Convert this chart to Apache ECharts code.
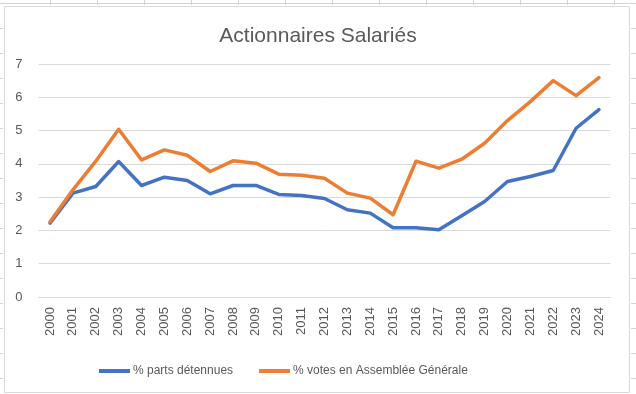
<!DOCTYPE html>
<html><head><meta charset="utf-8">
<script src="https://cdn.jsdelivr.net/npm/echarts@6/dist/echarts.min.js"></script>
<style>html,body{margin:0;padding:0;background:#fff}#c{width:636px;height:394px}</style>
</head><body><div id="c"></div>
<script>
var years = ['2000','2001','2002','2003','2004','2005','2006','2007','2008','2009','2010','2011','2012','2013','2014','2015','2016','2017','2018','2019','2020','2021','2022','2023','2024'];
var partsDetenues = [2.22,3.12,3.32,4.07,3.35,3.60,3.50,3.10,3.35,3.35,3.08,3.05,2.96,2.62,2.52,2.08,2.08,2.02,2.44,2.87,3.47,3.62,3.80,5.07,5.63];
var votesAG = [2.26,3.22,4.08,5.04,4.12,4.42,4.26,3.77,4.09,4.02,3.69,3.66,3.57,3.12,2.97,2.47,4.08,3.87,4.14,4.62,5.30,5.87,6.50,6.05,6.59];
var yTicks = [0,1,2,3,4,5,6,7];

var font = 'Liberation Sans';
var txt = '#595959';
var gridC = '#d9d9d9';

// spreadsheet cell lines around the chart (decoration)
var deco = [];
var colX = [50.5,97.5,144.5,191.5,238.5,285.5,332.5,379.5,426.5,473.5,520.5,567.5,614.5];
colX.forEach(function(x){ deco.push({type:'line',shape:{x1:x,y1:0,x2:x,y2:5},style:{stroke:'#d4d4d4',lineWidth:1},silent:true}); });
deco.push({type:'line',shape:{x1:0,y1:3.5,x2:636,y2:3.5},style:{stroke:'#d4d4d4',lineWidth:1},silent:true});
for (var ry=28.5; ry<394; ry+=25){
  deco.push({type:'line',shape:{x1:0,y1:ry,x2:3,y2:ry},style:{stroke:'#d4d4d4',lineWidth:1},silent:true});
  deco.push({type:'line',shape:{x1:631,y1:ry,x2:636,y2:ry},style:{stroke:'#d4d4d4',lineWidth:1},silent:true});
}
deco.push({type:'rect',shape:{x:4.5,y:6.5,width:625,height:386},style:{fill:null,stroke:'#d9d9d9',lineWidth:1},silent:true});

var chart = echarts.init(document.getElementById('c'), null, {renderer:'canvas'});
chart.setOption({
  animation:false,
  backgroundColor:'#fff',
  graphic: deco,
  title:{text:'Actionnaires Salariés',left:'center',top:21,textStyle:{fontFamily:font,fontSize:21,fontWeight:'normal',color:txt}},
  legend:{
    bottom:12,left:94,itemWidth:31,itemHeight:4,itemGap:26,
    icon:'rect',
    textStyle:{fontFamily:font,fontSize:12,color:txt,padding:[0,0,0,-2]},
    data:['% parts détennues','% votes en Assemblée Générale']
  },
  grid:{left:38.6,right:25.6,top:64,bottom:97},
  xAxis:{
    type:'category',data:years,boundaryGap:true,
    axisLine:{lineStyle:{color:gridC}},axisTick:{show:false},
    axisLabel:{rotate:90,interval:0,margin:10,fontFamily:font,fontSize:13,color:txt}
  },
  yAxis:{
    type:'value',min:yTicks[0],max:yTicks[yTicks.length-1],interval:1,
    axisLine:{show:false},axisTick:{show:false},
    axisLabel:{margin:16,fontFamily:font,fontSize:13,color:txt},
    splitLine:{lineStyle:{color:gridC}}
  },
  series:[
    {name:'% parts détennues',type:'line',data:partsDetenues,symbol:'none',
     lineStyle:{color:'#4472C4',width:3.5,join:'round',cap:'round'},itemStyle:{color:'#4472C4'}},
    {name:'% votes en Assemblée Générale',type:'line',data:votesAG,symbol:'none',
     lineStyle:{color:'#ED7D31',width:3.5,join:'round',cap:'round'},itemStyle:{color:'#ED7D31'}}
  ]
});
</script></body></html>
